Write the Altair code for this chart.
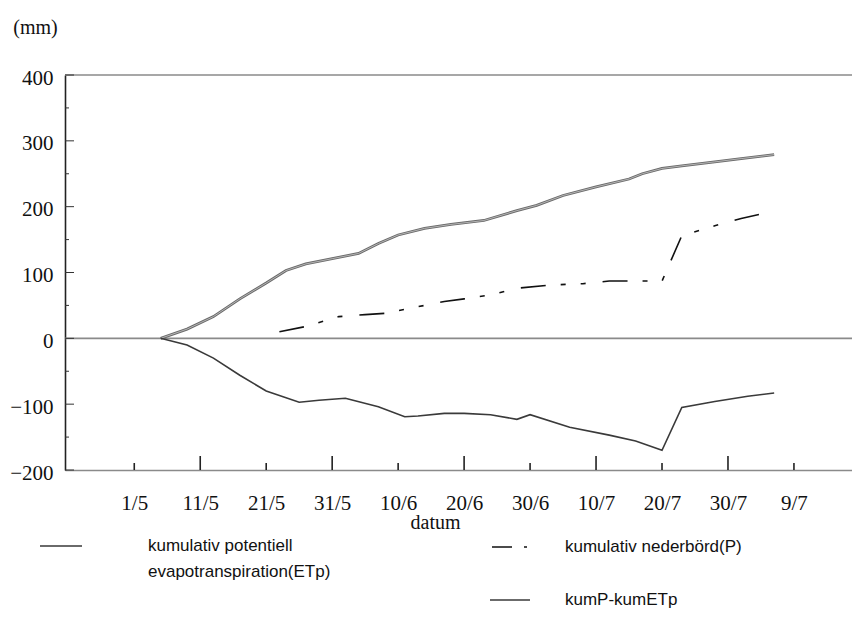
import altair as alt
import pandas as pd

# Day numbers are counted from 1 May (day 0).
etp_day = [4, 8, 12, 16, 20, 23, 26, 30, 34, 37, 40, 44, 48, 53, 58, 61, 65, 70, 75, 77, 80, 83, 88, 92, 97]
etp_mm = [0, 14, 33, 60, 84, 103, 113, 121, 129, 144, 157, 167, 173, 179, 194, 202, 217, 230, 242, 250, 258, 262, 268, 273, 279]

p_day = [22, 26, 31, 35, 38, 43, 47, 50, 54, 58, 63, 68, 72, 75, 80, 83, 88, 92, 96]
p_mm = [10, 18, 33, 36, 38, 48, 56, 60, 66, 76, 81, 83, 87, 87, 87, 156, 171, 182, 191]

diff_day = [4, 8, 12, 16, 20, 25, 28, 32, 37, 41, 43, 47, 50, 54, 58, 60, 66, 72, 76, 80, 83, 88, 93, 97]
diff_mm = [0, -10, -30, -56, -80, -97, -94, -91, -104, -119, -118, -114, -114, -116, -123, -116, -135, -147, -156, -170, -105, -96, -88, -83]

tick_days = [0, 10, 20, 30, 40, 50, 60, 70, 80, 90, 100]
tick_labels = ["1/5", "11/5", "21/5", "31/5", "10/6", "20/6", "30/6", "10/7", "20/7", "30/7", "9/7"]
y_values = [-200, -100, 0, 100, 200, 300, 400]
y_minor = [-150, -50, 50, 150, 250, 350]
x_short = [0, 20, 40, 60, 80, 100]
x_long = [10, 30, 50, 70, 90]

legend_texts = ["kumulativ potentiell", "evapotranspiration(ETp)",
                "kumulativ nederbörd(P)", "kumP-kumETp"]

W, H = 787, 395
SERIF = "Liberation Serif"
SANS = "Liberation Sans"

x_scale = alt.Scale(domain=[-10.5, 108.8], nice=False, zero=False)
y_scale = alt.Scale(domain=[-200, 400], nice=False, zero=False)

label_expr = "[" + ",".join(f"'{t}'" for t in tick_labels) + "][round(datum.value / 10)]"

x_axis = alt.Axis(
    values=tick_days, labelExpr=label_expr, ticks=False, grid=False,
    domainColor="#8a8a8a", domainWidth=1.6,
    labelFont=SERIF, labelFontSize=21, labelColor="#111", labelPadding=22,
    title="datum", titleFont=SERIF, titleFontSize=20, titleFontWeight="normal",
    titleColor="#111", titleX=370, titleY=52, titleAlign="center", titleBaseline="middle",
)
y_axis = alt.Axis(
    values=y_values, ticks=False, grid=False,
    domainColor="#222", domainWidth=1.6,
    labelFont=SERIF, labelFontSize=21, labelColor="#111", labelPadding=12,
    labelOffset=3,
    title="(mm)", titleAngle=0, titleFont=SERIF, titleFontSize=20,
    titleFontWeight="normal", titleColor="#111", titleX=-30, titleY=-48,
    titleAlign="center", titleBaseline="middle",
)

X = alt.X("day:Q", scale=x_scale, axis=x_axis)
Y = alt.Y("mm:Q", scale=y_scale, axis=y_axis)

etp_df = pd.DataFrame({"day": etp_day, "mm": etp_mm})
p_df = pd.DataFrame({"day": p_day, "mm": p_mm})
diff_df = pd.DataFrame({"day": diff_day, "mm": diff_mm})

# frame line at the top and the zero line
hlines = alt.Chart(pd.DataFrame({"mm": [0, 400]})).mark_rule(
    color="#8a8a8a", strokeWidth=1.6).encode(y=Y)

# inward tick marks on the y axis
y_ticks_long = alt.Chart(pd.DataFrame({"mm": y_values})).mark_rule(
    color="#333", strokeWidth=1).encode(y=Y, x=alt.value(0), x2=alt.value(9))
y_ticks_short = alt.Chart(pd.DataFrame({"mm": y_minor})).mark_rule(
    color="#333", strokeWidth=1).encode(y=Y, x=alt.value(0), x2=alt.value(4))

# upward tick marks on the x axis
x_ticks_long = alt.Chart(pd.DataFrame({"day": x_long})).mark_rule(
    color="#222", strokeWidth=1.6).encode(x=X, y=alt.value(H), y2=alt.value(H - 14))
x_ticks_short = alt.Chart(pd.DataFrame({"day": x_short})).mark_rule(
    color="#222", strokeWidth=1.6).encode(x=X, y=alt.value(H), y2=alt.value(H - 7))

etp_outer = alt.Chart(etp_df).mark_line(color="#6a6a6a", strokeWidth=2.8).encode(x=X, y=Y)
etp_inner = alt.Chart(etp_df).mark_line(color="#c8c8c8", strokeWidth=0.8).encode(x=X, y=Y)
p_line = alt.Chart(p_df).mark_line(
    color="#111", strokeWidth=1.6, strokeDash=[25, 15, 5, 15, 5, 17]).encode(x=X, y=Y)
diff_line = alt.Chart(diff_df).mark_line(color="#3a3a3a", strokeWidth=1.6).encode(x=X, y=Y)

# legend below the plot
def legend_text(text, px, py):
    return alt.Chart(pd.DataFrame({"t": [text]})).mark_text(
        font=SANS, fontSize=17, color="#111", align="left", baseline="middle"
    ).encode(text="t:N", x=alt.value(px), y=alt.value(py))

leg_etp = alt.Chart(pd.DataFrame({"t": [0]})).mark_rule(
    color="#6a6a6a", strokeWidth=2).encode(x=alt.value(-25), x2=alt.value(17), y=alt.value(471))
leg_p = alt.Chart(pd.DataFrame({"t": [0]})).mark_rule(
    color="#111", strokeWidth=1.5, strokeDash=[20, 12, 3, 100]).encode(
    x=alt.value(427), x2=alt.value(462), y=alt.value(472))
leg_diff = alt.Chart(pd.DataFrame({"t": [0]})).mark_rule(
    color="#3a3a3a", strokeWidth=1.5).encode(x=alt.value(425), x2=alt.value(465), y=alt.value(525))

chart = alt.layer(
    hlines, y_ticks_long, y_ticks_short, x_ticks_long, x_ticks_short,
    etp_outer, etp_inner, p_line, diff_line,
    leg_etp, leg_p, leg_diff,
    legend_text(legend_texts[0], 83, 471),
    legend_text(legend_texts[1], 83, 497),
    legend_text(legend_texts[2], 500, 472),
    legend_text(legend_texts[3], 500, 525),
).properties(
    width=W, height=H,
    autosize=alt.AutoSizeParams(type="none"),
    padding={"left": 65, "top": 75, "right": 0, "bottom": 149},
    background="white",
).configure_view(stroke=None)

chart.save("out.html", embed_options={"renderer": "svg", "actions": False})
